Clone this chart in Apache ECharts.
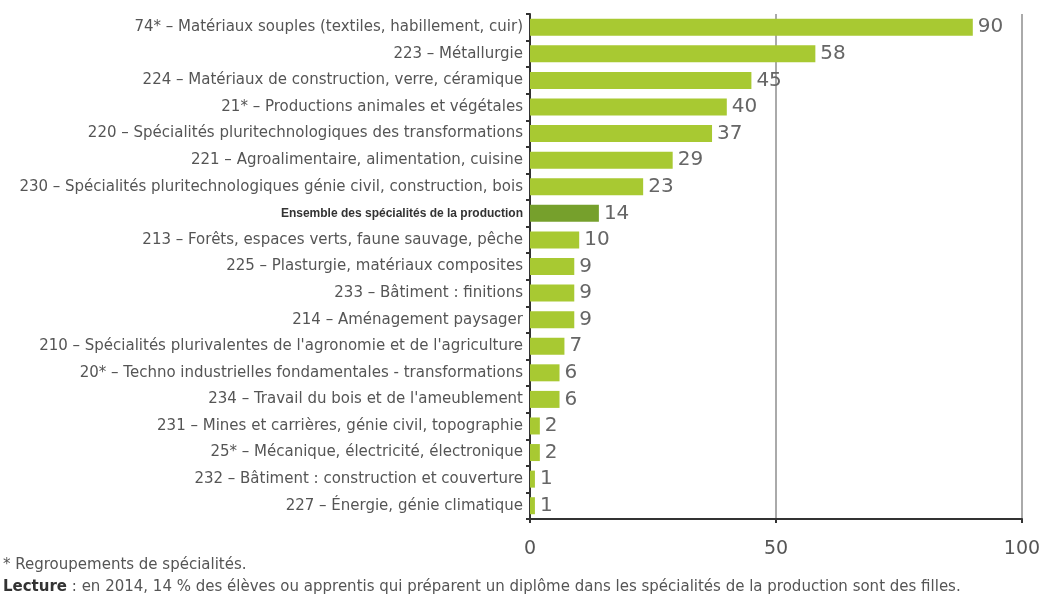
<!DOCTYPE html>
<html><head><meta charset="utf-8">
<script src="https://cdn.jsdelivr.net/npm/echarts@6/dist/echarts.min.js"></script>
<style>html,body{margin:0;padding:0;background:#fff}#c{width:1049px;height:599px}</style>
</head><body><div id="c"></div>
<script>
const categories = [
  "74* – Matériaux souples (textiles, habillement, cuir)",
  "223 – Métallurgie",
  "224 – Matériaux de construction, verre, céramique",
  "21* – Productions animales et végétales",
  "220 – Spécialités pluritechnologiques des transformations",
  "221 – Agroalimentaire, alimentation, cuisine",
  "230 – Spécialités pluritechnologiques génie civil, construction, bois",
  "Ensemble des spécialités de la production",
  "213 – Forêts, espaces verts, faune sauvage, pêche",
  "225 – Plasturgie, matériaux composites",
  "233 – Bâtiment : finitions",
  "214 – Aménagement paysager",
  "210 – Spécialités plurivalentes de l'agronomie et de l'agriculture",
  "20* – Techno industrielles fondamentales - transformations",
  "234 – Travail du bois et de l'ameublement",
  "231 – Mines et carrières, génie civil, topographie",
  "25* – Mécanique, électricité, électronique",
  "232 – Bâtiment : construction et couverture",
  "227 – Énergie, génie climatique"
];
const values = [90, 58, 45, 40, 37, 29, 23, 14, 10, 9, 9, 9, 7, 6, 6, 2, 2, 1, 1];
const highlighted = "Ensemble des spécialités de la production";
const xTicks = [0, 50, 100];
const footnote = "* Regroupements de spécialités.";
const lectureLabel = "Lecture";
const lectureText = " : en 2014, 14 % des élèves ou apprentis qui préparent un diplôme dans les spécialités de la production sont des filles.";

const chart = echarts.init(document.getElementById('c'));
const wide = "'DejaVu Sans', sans-serif";
chart.setOption({
  animation: false,
  grid: { left: 530, right: 27, top: 14, bottom: 80 },
  xAxis: {
    type: 'value', min: xTicks[0], max: xTicks[xTicks.length - 1], interval: xTicks[1] - xTicks[0],
    axisLine: { show: true, lineStyle: { color: '#333', width: 2 } },
    axisTick: { show: true, length: 4, inside: false, lineStyle: { color: '#333', width: 2 } },
    splitLine: { show: true, lineStyle: { color: '#aaa', width: 2 } },
    axisLabel: { color: '#555', fontSize: 19, fontFamily: wide, margin: 21 }
  },
  yAxis: {
    type: 'category', inverse: true, data: categories,
    axisLine: { show: true, lineStyle: { color: '#333', width: 2 } },
    axisTick: { show: true, length: 4, lineStyle: { color: '#333', width: 2 } },
    axisLabel: {
      margin: 7, fontSize: 15, color: '#555', fontFamily: wide,
      formatter: v => v === highlighted ? '{b|' + v + '}' : v,
      rich: { b: { fontWeight: 'bold', color: '#333', fontSize: 12, fontFamily: "'Liberation Sans', sans-serif" } }
    }
  },
  series: [{
    type: 'bar', barWidth: 17,
    data: values.map((v, i) => ({
      value: v,
      itemStyle: { color: categories[i] === highlighted ? '#76a02c' : '#a8c932' }
    })),
    label: { show: true, position: 'right', distance: 5, color: '#666', fontSize: 20, fontFamily: wide }
  }],
  graphic: [
    { type: 'text', left: 3, top: 558, style: { text: footnote, fontSize: 15, fill: '#555', fontFamily: wide } },
    { type: 'text', left: 3, top: 580, style: {
        text: '{b|' + lectureLabel + '}{n|' + lectureText + '}',
        rich: {
          b: { fontWeight: 'bold', fontSize: 15, fill: '#333', fontFamily: wide },
          n: { fontSize: 15, fill: '#555', fontFamily: wide }
        } } }
  ]
});
</script></body></html>
